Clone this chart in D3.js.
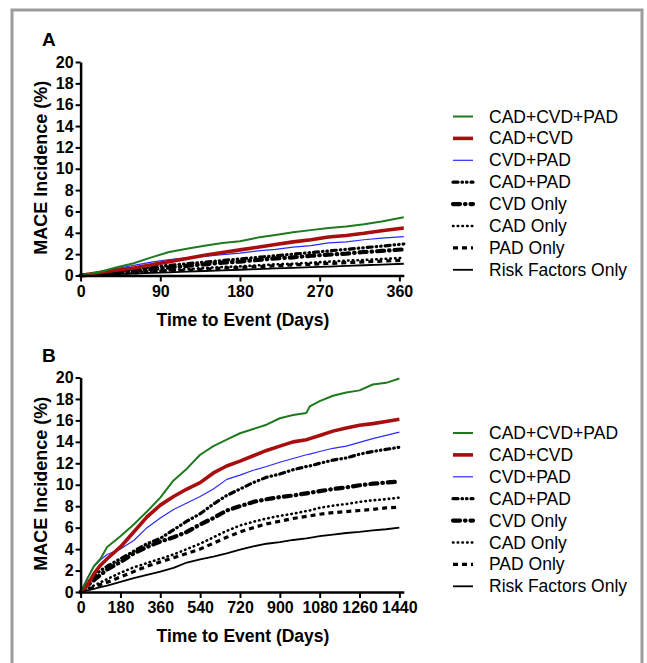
<!DOCTYPE html>
<html>
<head>
<meta charset="utf-8">
<script src="https://cdn.jsdelivr.net/npm/d3@7"></script>
<style>
  html, body { margin: 0; padding: 0; background: #fff; }
  svg { display: block; font-family: "Liberation Sans", Arial, Helvetica, sans-serif; }
</style>
</head>
<body>
<svg id="chart" width="647" height="663"></svg>
<script>
// ---- data -------------------------------------------------------
const seriesNames = ['CAD+CVD+PAD', 'CAD+CVD', 'CVD+PAD', 'CAD+PAD', 'CVD Only', 'CAD Only', 'PAD Only', 'Risk Factors Only'];

// panel A : first year
const daysA = [0, 20, 40, 60, 80, 100, 120, 140, 160, 180, 200, 220, 240, 260, 280, 300, 320, 340, 365];
const valuesA = [
  [0, 0.3, 0.75, 1.15, 1.7, 2.2, 2.5, 2.78, 3.05, 3.2, 3.55, 3.8, 4.05, 4.25, 4.45, 4.6, 4.8, 5.05, 5.45],
  [0, 0.25, 0.5, 0.7, 1.0, 1.3, 1.6, 1.9, 2.15, 2.4, 2.65, 2.9, 3.15, 3.35, 3.6, 3.75, 3.95, 4.2, 4.45],
  [0, 0.3, 0.65, 0.95, 1.25, 1.5, 1.65, 1.8, 1.95, 2.1, 2.3, 2.45, 2.65, 2.8, 3.05, 3.15, 3.35, 3.5, 3.65],
  [0, 0.2, 0.4, 0.6, 0.8, 0.95, 1.1, 1.25, 1.4, 1.55, 1.7, 1.85, 2.0, 2.15, 2.3, 2.45, 2.6, 2.75, 2.95],
  [0, 0.15, 0.3, 0.45, 0.6, 0.75, 0.9, 1.05, 1.2, 1.3, 1.45, 1.6, 1.7, 1.85, 1.95, 2.05, 2.2, 2.3, 2.45],
  [0, 0.1, 0.2, 0.3, 0.4, 0.5, 0.6, 0.7, 0.8, 0.85, 0.95, 1.05, 1.1, 1.2, 1.3, 1.4, 1.45, 1.55, 1.65],
  [0, 0.08, 0.17, 0.25, 0.35, 0.42, 0.5, 0.6, 0.68, 0.75, 0.83, 0.9, 1.0, 1.05, 1.13, 1.2, 1.27, 1.35, 1.42],
  [0, 0.06, 0.12, 0.18, 0.24, 0.3, 0.36, 0.42, 0.48, 0.54, 0.6, 0.66, 0.72, 0.78, 0.84, 0.9, 0.96, 1.02, 1.1]
];

// panel B : four years
const daysB = [0, 30, 60, 90, 120, 180, 240, 300, 360, 420, 480, 540, 600, 660, 720, 780, 840, 900, 960, 1020, 1035, 1080, 1140, 1200, 1260, 1320, 1380, 1440];
const valuesB = [
  [0, 1.2, 2.4, 3.1, 4.2, 5.2, 6.3, 7.5, 8.8, 10.4, 11.5, 12.8, 13.6, 14.2, 14.8, 15.2, 15.6, 16.2, 16.5, 16.7, 17.3, 17.8, 18.3, 18.6, 18.8, 19.35, 19.5, 19.9],
  [0, 0.6, 1.7, 2.5, 3.1, 4.2, 5.6, 7.0, 8.1, 8.9, 9.6, 10.2, 11.1, 11.75, 12.2, 12.7, 13.2, 13.6, 14.0, 14.2, 14.3, 14.6, 15.0, 15.3, 15.55, 15.7, 15.9, 16.1],
  [0, 1.3, 2.4, 3.0, 3.5, 4.0, 4.8, 6.0, 6.9, 7.7, 8.3, 8.9, 9.6, 10.5, 10.9, 11.35, 11.7, 12.1, 12.45, 12.8, 12.85, 13.1, 13.4, 13.6, 13.95, 14.3, 14.6, 14.9],
  [0, 0.8, 1.5, 2.0, 2.4, 3.1, 3.8, 4.5, 5.0, 5.8, 6.6, 7.3, 8.2, 9.0, 9.6, 10.2, 10.7, 11.0, 11.4, 11.7, 11.75, 12.0, 12.3, 12.5, 12.85, 13.1, 13.3, 13.5],
  [0, 0.6, 1.1, 1.6, 2.1, 2.8, 3.6, 4.2, 4.7, 5.1, 5.6, 6.3, 6.9, 7.6, 8.0, 8.4, 8.65, 8.85, 9.0, 9.2, 9.25, 9.4, 9.6, 9.75, 9.95, 10.1, 10.2, 10.3],
  [0, 0.3, 0.6, 0.9, 1.2, 1.8, 2.3, 2.7, 3.1, 3.5, 4.0, 4.5, 5.1, 5.7, 6.2, 6.55, 6.85, 7.1, 7.3, 7.55, 7.6, 7.85, 8.05, 8.2, 8.4, 8.55, 8.65, 8.8],
  [0, 0.2, 0.45, 0.7, 0.9, 1.4, 1.9, 2.4, 2.8, 3.2, 3.6, 4.0, 4.55, 5.1, 5.6, 6.0, 6.35, 6.6, 6.85, 7.05, 7.1, 7.25, 7.4, 7.5, 7.6, 7.7, 7.85, 7.9],
  [0, 0.15, 0.3, 0.45, 0.6, 0.95, 1.3, 1.6, 1.9, 2.25, 2.75, 3.05, 3.3, 3.6, 3.95, 4.25, 4.5, 4.65, 4.85, 5.0, 5.05, 5.2, 5.35, 5.5, 5.6, 5.75, 5.85, 6.0]
];

const yTicks = [0, 2, 4, 6, 8, 10, 12, 14, 16, 18, 20];
const xTicksA = [0, 90, 180, 270, 360];
const xTicksB = [0, 180, 360, 540, 720, 900, 1080, 1260, 1440];

// ---- styles -----------------------------------------------------
const styles = [
  { color: '#1f7a1f', width: 2,   dash: null },
  { color: '#a80e0e', width: 3.6, dash: null },
  { color: '#2a2aff', width: 1.2, dash: null },
  { color: '#000',    width: 3.2, dash: '5,4,0.5,4,0.5,4', cap: 'round' },
  { color: '#000',    width: 4.2, dash: '7,5,0.5,5', cap: 'round' },
  { color: '#000',    width: 2.6, dash: '0.5,4.2', cap: 'round' },
  { color: '#000',    width: 3.2, dash: '5,4', cap: 'butt' },
  { color: '#000',    width: 1.8, dash: null }
];

const svg = d3.select('#chart');

// frame
svg.append('rect')
  .attr('x', 12).attr('y', 10).attr('width', 630).attr('height', 670)
  .attr('fill', 'none').attr('stroke', '#9c9c9c').attr('stroke-width', 3);

function panel(opts) {
  const { label, labelY, days, values, domainX, xTicks, yTop, yBottom } = opts;
  const x = d3.scaleLinear().domain(domainX).range([80.6, 403.8]);
  const y = d3.scaleLinear().domain([0, 20]).range([yBottom, yTop]);
  const g = svg.append('g');

  g.append('text').attr('x', 42).attr('y', labelY)
    .attr('font-size', 19).attr('font-weight', 'bold').text(label);

  // lines, bottom series first so coloured ones sit on top
  const line = d3.line().x(d => x(d[0])).y(d => y(d[1]));
  d3.range(values.length - 1, -1, -1).forEach(i => {
    const st = styles[i];
    g.append('path')
      .datum(days.map((dd, k) => [dd, values[i][k]]))
      .attr('fill', 'none')
      .attr('stroke', st.color)
      .attr('stroke-width', st.width)
      .attr('stroke-dasharray', st.dash)
      .attr('stroke-linecap', st.cap || 'butt')
      .attr('stroke-linejoin', 'round')
      .attr('d', line);
  });

  // axes
  const yAxis = g.append('g').attr('transform', `translate(${x(0)},0)`)
    .call(d3.axisLeft(y).tickValues(yTicks).tickSize(5).tickSizeOuter(0));
  const xAxis = g.append('g').attr('transform', `translate(0,${y(0)})`)
    .call(d3.axisBottom(x).tickValues(xTicks).tickFormat(d3.format('d')).tickSize(6).tickSizeOuter(0));
  [yAxis, xAxis].forEach(a => {
    a.select('.domain').attr('stroke', '#000').attr('stroke-width', 2.5);
    a.selectAll('.tick line').attr('stroke', '#000').attr('stroke-width', 2);
    a.selectAll('.tick text')
      .attr('font-family', '"Liberation Sans", Arial, sans-serif')
      .attr('font-size', 16).attr('font-weight', 'bold').attr('fill', '#000');
  });
  yAxis.selectAll('.tick text').attr('x', -7);
  xAxis.selectAll('.tick text').attr('y', 10);

  // titles
  g.append('text')
    .attr('transform', `translate(47,${(yTop + yBottom) / 2 - 1}) rotate(-90)`)
    .attr('text-anchor', 'middle').attr('font-size', 18).attr('font-weight', 'bold')
    .text('MACE Incidence (%)');
  g.append('text')
    .attr('x', 243).attr('y', yBottom + 50)
    .attr('text-anchor', 'middle').attr('font-size', 17.5).attr('font-weight', 'bold')
    .text('Time to Event (Days)');

  // legend
  const lg = g.append('g').attr('transform', `translate(452,${opts.legendY})`);
  seriesNames.forEach((name, i) => {
    const st = styles[i];
    const row = lg.append('g').attr('transform', `translate(0,${i * 21.9})`);
    row.append('line')
      .attr('x1', 1).attr('x2', 21).attr('y1', 0).attr('y2', 0)
      .attr('stroke', st.color)
      .attr('stroke-width', st.width)
      .attr('stroke-dasharray', st.dash)
      .attr('stroke-linecap', st.cap || 'butt');
    row.append('text').attr('x', 37).attr('y', 6)
      .attr('font-size', 17.5).text(name);
  });
}

panel({ label: 'A', labelY: 46, days: daysA, values: valuesA, domainX: [0, 365],
        xTicks: xTicksA, yTop: 62, yBottom: 275.5, legendY: 116.5 });
panel({ label: 'B', labelY: 362, days: daysB, values: valuesB, domainX: [0, 1460],
        xTicks: xTicksB, yTop: 377.5, yBottom: 592, legendY: 433 });
</script>
</body>
</html>
